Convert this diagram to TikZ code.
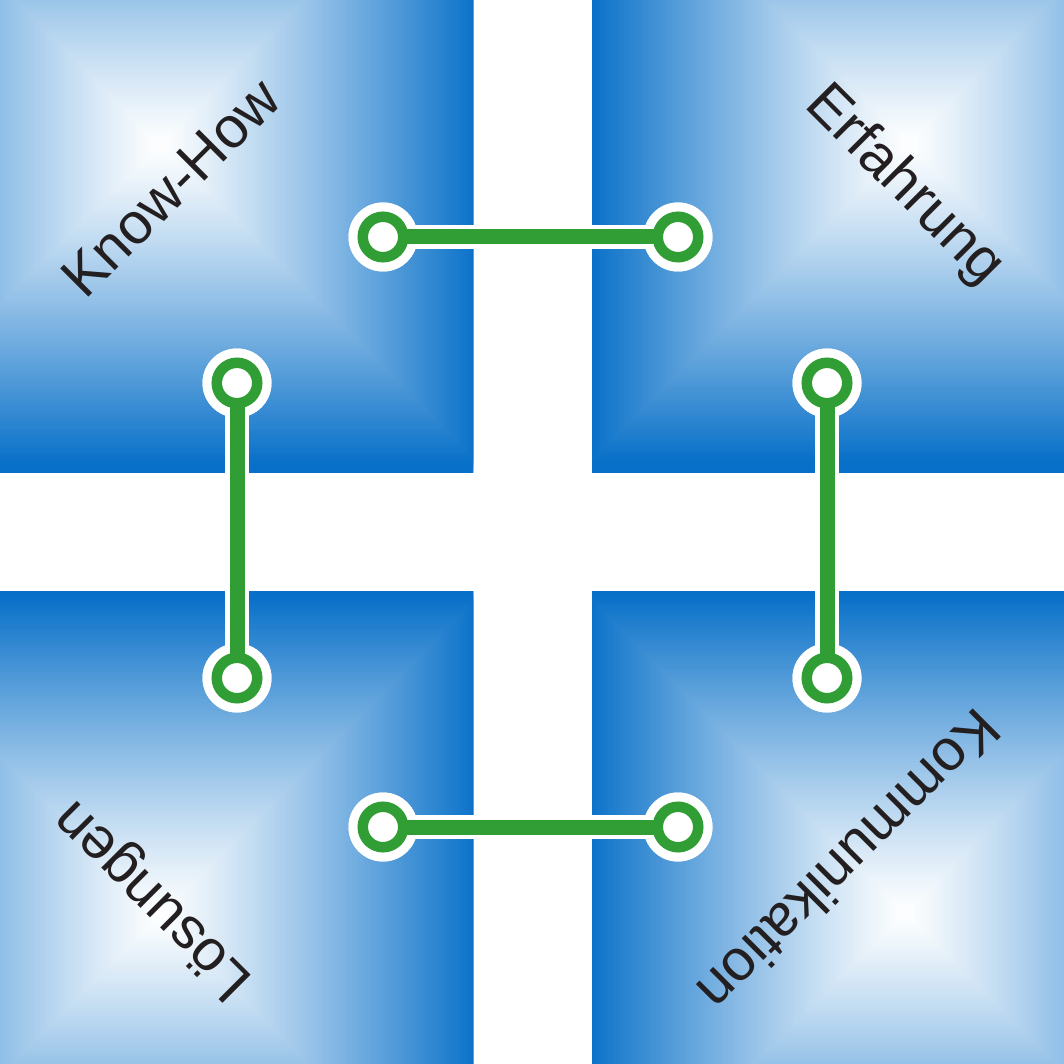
\documentclass[tikz,border=0pt]{standalone}
\usepackage{fontspec}
\setmainfont{Liberation Sans}
\definecolor{deep}{RGB}{8,112,200}
\definecolor{pgreen}{RGB}{48,158,52}
\definecolor{txt}{RGB}{35,31,32}
\tikzset{
  padbase/.style={circle, fill=white, inner sep=0pt, minimum size=69pt},
  ring/.style={circle, draw=pgreen, fill=white, line width=10.5pt, inner sep=0pt, minimum size=40.5pt},
  barwhite/.style={draw=white, line width=24pt},
  bargreen/.style={draw=pgreen, line width=15pt},
  lbl/.style={text=txt, font=\fontsize{58}{60}\selectfont, inner sep=0pt, text height=41.5pt, text depth=0pt, anchor=center},
}
\newcommand\quadshade[6]{%
  \begin{scope}
  \clip (#1,#2) rectangle (#3,#4);
  \foreach \d in {336,333,...,3}{%
    \pgfmathsetmacro\p{min(100,100*(\d/320)^1.15)}%
    \fill[deep!\p!white] ({#5-\d},{#6-\d}) rectangle ({#5+\d},{#6+\d});
  }
  \end{scope}}
\begin{document}
\begin{tikzpicture}[x=1pt,y=-1pt]
\useasboundingbox (0,0) rectangle (1064,1064);
\fill[white] (0,0) rectangle (1064,1064);
% shaded quadrants
\quadshade{0}{0}{473}{472}{160}{145}
\quadshade{592}{0}{1064}{472}{909}{143}
\quadshade{0}{591}{473}{1064}{160}{915}
\quadshade{592}{591}{1064}{1064}{905}{913}
% pads
\node[padbase] (a1) at (383,237) {};
\node[padbase] (a2) at (678,237) {};
\node[padbase] (b1) at (237,383) {};
\node[padbase] (b2) at (237,678) {};
\node[padbase] (c1) at (827,383) {};
\node[padbase] (c2) at (827,678) {};
\node[padbase] (d1) at (383,827) {};
\node[padbase] (d2) at (678,827) {};
% white outlines of bars
\draw[barwhite] (a1.center) -- (a2.center);
\draw[barwhite] (b1.center) -- (b2.center);
\draw[barwhite] (c1.center) -- (c2.center);
\draw[barwhite] (d1.center) -- (d2.center);
% re-draw pad discs over outlines
\foreach \n in {a1,a2,b1,b2,c1,c2,d1,d2}{\fill[white] (\n.center) circle (34.5);}
% green bars
\draw[bargreen] (a1.center) -- (a2.center);
\draw[bargreen] (b1.center) -- (b2.center);
\draw[bargreen] (c1.center) -- (c2.center);
\draw[bargreen] (d1.center) -- (d2.center);
% rings
\node[ring] (ra1) at (a1) {};
\node[ring] (ra2) at (a2) {};
\node[ring] (rb1) at (b1) {};
\node[ring] (rb2) at (b2) {};
\node[ring] (rc1) at (c1) {};
\node[ring] (rc2) at (c2) {};
\node[ring] (rd1) at (d1) {};
\node[ring] (rd2) at (d2) {};
% labels
\node[lbl, rotate=45] (t1) at (170,187) {Know-How};
\node[lbl, rotate=-45] (t2) at (908,182) {Erfahrung};
\node[lbl, rotate=135] (t3) at (150,903) {Lösungen};
\node[lbl, rotate=225] (t4) at (850,861) {Kommunikation};
\end{tikzpicture}
\end{document}
